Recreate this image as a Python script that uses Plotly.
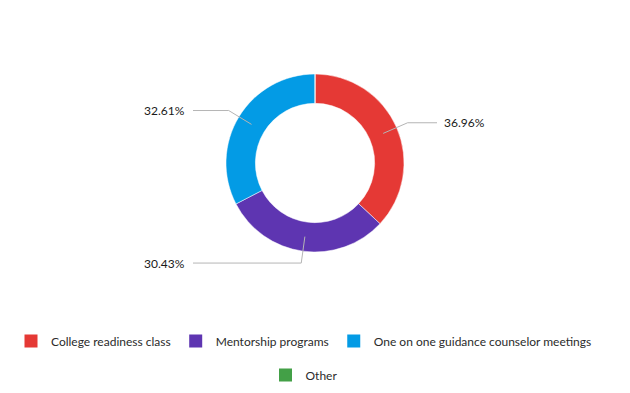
import math
import plotly.graph_objects as go

categories = ["College readiness class", "Mentorship programs",
              "One on one guidance counselor meetings", "Other"]
counts = [17, 14, 15, 0]
colors = ["#E53935", "#5E35B1", "#039BE5", "#43A047"]

W, H = 630, 393
CX, CY = 315, 163          # donut centre (px)
R_OUT = 89                 # outer radius (px)
HOLE = 0.67
FONT = "Lato"

def px_to_paper(x, y):
    return x / W, 1 - y / H

fig = go.Figure()
fig.add_trace(go.Pie(
    labels=categories, values=counts, hole=HOLE, sort=False,
    direction="clockwise", rotation=0,
    marker=dict(colors=colors, line=dict(color="white", width=0.5)),
    textinfo="none", hoverinfo="label+percent", showlegend=False,
    domain=dict(x=[0, 1], y=[1 - (CY + R_OUT) / H, 1 - (CY - R_OUT) / H]),
))

# legend entries (two centred rows)
for i, cat in enumerate(categories):
    fig.add_trace(go.Scatter(
        x=[None], y=[None], mode="markers", name=cat,
        marker=dict(symbol="square", size=13, color=colors[i]),
        legend="legend" if i < 3 else "legend2", hoverinfo="skip",
    ))

# outside labels with leader lines
total = sum(counts)
cum = 0
shapes, annotations = [], []
r_mid = (R_OUT + R_OUT * HOLE) / 2
for v in counts:
    if v == 0:
        cum += v
        continue
    f = (cum + v / 2) / total
    cum += v
    th = 2 * math.pi * f
    s, c = math.sin(th), math.cos(th)
    p0 = (CX + r_mid * s, CY - r_mid * c)
    p1 = (CX + 101 * s, CY - 101 * c)
    right = s >= 0
    xend = CX + 122 if right else CX - 122
    p2 = (xend, p1[1])
    a = px_to_paper(*p0); b = px_to_paper(*p1); d = px_to_paper(*p2)
    shapes.append(dict(type="path", xref="paper", yref="paper",
                       path=f"M {a[0]},{a[1]} L {b[0]},{b[1]} L {d[0]},{d[1]}",
                       line=dict(color="#b5b5b5", width=1)))
    tx, ty = px_to_paper(xend + (5 if right else -6), p1[1])
    annotations.append(dict(xref="paper", yref="paper", x=tx, y=ty,
                            text=f"{100 * v / total:.2f}%", showarrow=False,
                            xanchor="left" if right else "right", yanchor="middle",
                            font=dict(family=FONT, size=12, color="#1a1a1a")))

legend_common = dict(orientation="h", xanchor="center", x=0.5 - 11 / W, yanchor="middle",
                     font=dict(family=FONT, size=12, color="#2b2b2b"),
                     bgcolor="rgba(0,0,0,0)", itemclick=False, itemdoubleclick=False)

fig.update_layout(
    width=W, height=H, margin=dict(l=0, r=0, t=0, b=0),
    paper_bgcolor="white", plot_bgcolor="white",
    xaxis=dict(visible=False), yaxis=dict(visible=False),
    shapes=shapes, annotations=annotations,
    legend=dict(y=1 - 341 / H, **legend_common),
    legend2=dict(y=1 - 375 / H, **legend_common),
    font=dict(family=FONT),
)

fig.write_html("out.html")
